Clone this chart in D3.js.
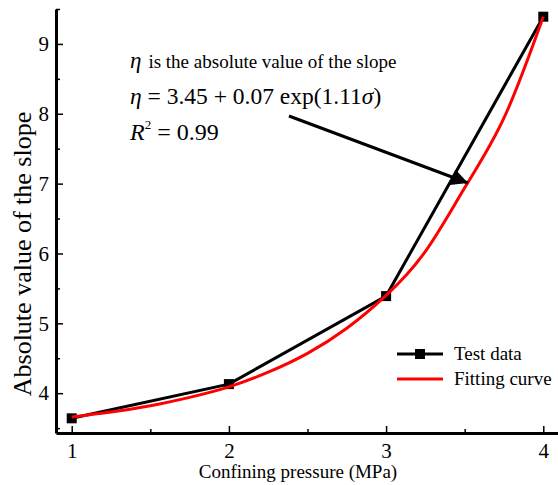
<!DOCTYPE html>
<html>
<head>
<meta charset="utf-8">
<script src="https://cdn.jsdelivr.net/npm/d3@7"></script>
<style>
  body { margin: 0; background: #fff; }
  svg { display: block; }
  svg text { font-family: "Liberation Serif", "Times New Roman", serif; fill: #000; }
  .axis path, .axis line { stroke: #000; }
  .axis text { font-size: 21px; }
</style>
</head>
<body>
<svg width="558" height="485"></svg>
<script>
// test data
var pressure = [1, 2, 3, 4];
var slopeAbs = [3.64, 4.13, 5.39, 9.39];

// fitting curve
var fitX = [1, 1.25, 1.5, 1.75, 2, 2.25, 2.5, 2.75, 3, 3.25, 3.5, 3.75, 4];
var fitY = [3.66, 3.73, 3.82, 3.94, 4.09, 4.30, 4.57, 4.93, 5.40, 6.03, 6.94, 7.94, 9.39];

var xMajor = [1, 2, 3, 4];
var xMinor = [1.5, 2.5, 3.5];
var yMajor = [4, 5, 6, 7, 8, 9];
var yMinor = [3.5, 4.5, 5.5, 6.5, 7.5, 8.5, 9.5];

var svg = d3.select("svg");

var x = d3.scaleLinear().domain([0.9, 4.1]).range([56, 559]);
var y = d3.scaleLinear().domain([3.43, 9.5]).range([433, 9]);

// axes
var gx = svg.append("g").attr("class", "axis").attr("transform", "translate(0,433)");
gx.call(d3.axisBottom(x).tickValues(xMajor).tickSize(-7).tickSizeOuter(0).tickPadding(10).tickFormat(d3.format("d")));
gx.append("g").call(d3.axisBottom(x).tickValues(xMinor).tickSize(-4).tickSizeOuter(0).tickFormat(""))
  .select(".domain").remove();

var gy = svg.append("g").attr("class", "axis").attr("transform", "translate(56,0)");
gy.call(d3.axisLeft(y).tickValues(yMajor).tickSize(-7).tickSizeOuter(0).tickPadding(7).tickFormat(d3.format("d")));
gy.append("g").call(d3.axisLeft(y).tickValues(yMinor).tickSize(-4).tickSizeOuter(0).tickFormat(""))
  .select(".domain").remove();

svg.selectAll(".axis").attr("font-family", null).attr("font-size", null);
svg.selectAll(".axis g").attr("font-family", null).attr("font-size", null);
svg.selectAll(".axis .domain").attr("stroke-width", 3);
svg.selectAll(".axis line").attr("stroke-width", 1.5);

// axis titles
svg.append("text")
  .attr("x", 298).attr("y", 478)
  .attr("text-anchor", "middle")
  .attr("font-size", 19)
  .text("Confining pressure (MPa)");

svg.append("text")
  .attr("transform", "translate(31,254) rotate(-90)")
  .attr("text-anchor", "middle")
  .attr("font-size", 26)
  .text("Absolute value of the slope");

// test data line
var line = d3.line().x(d => x(d[0])).y(d => y(d[1]));
svg.append("path")
  .datum(d3.zip(pressure, slopeAbs))
  .attr("d", line)
  .attr("fill", "none")
  .attr("stroke", "#000")
  .attr("stroke-width", 3);

svg.selectAll(".pt")
  .data(d3.zip(pressure, slopeAbs))
  .enter()
  .append("rect")
  .attr("class", "pt")
  .attr("x", d => x(d[0]) - 5)
  .attr("y", d => y(d[1]) - 5)
  .attr("width", 10)
  .attr("height", 10)
  .attr("fill", "#000");

// fitting curve
svg.append("path")
  .datum(d3.zip(fitX, fitY))
  .attr("d", line.curve(d3.curveNatural))
  .attr("fill", "none")
  .attr("stroke", "#f00")
  .attr("stroke-width", 3);

// annotation
var note = svg.append("g");
var t1 = note.append("text").attr("x", 130).attr("y", 68);
t1.append("tspan").attr("font-style", "italic").attr("font-size", 23).text("η");
t1.append("tspan").attr("font-size", 19).attr("dx", 7).text("is the absolute value of the slope");

var t2 = note.append("text").attr("x", 130).attr("y", 104).attr("font-size", 23.5);
t2.append("tspan").attr("font-style", "italic").text("η");
t2.append("tspan").text(" = 3.45 + 0.07 exp(1.11");
t2.append("tspan").attr("font-style", "italic").text("σ");
t2.append("tspan").text(")");

var t3 = note.append("text").attr("x", 130).attr("y", 140).attr("font-size", 24);
t3.append("tspan").attr("font-style", "italic").text("R");
t3.append("tspan").attr("font-size", 13).attr("dy", -11).text("2");
t3.append("tspan").attr("dy", 11).text(" = 0.99");

svg.append("defs").append("marker")
  .attr("id", "arrow")
  .attr("viewBox", "0 0 10 10")
  .attr("refX", 10).attr("refY", 5)
  .attr("markerWidth", 7).attr("markerHeight", 5.5)
  .attr("markerUnits", "strokeWidth")
  .attr("orient", "auto")
  .append("path")
  .attr("d", "M0,0L10,5L0,10Z")
  .attr("fill", "#000");

note.append("line")
  .attr("x1", 289).attr("y1", 116)
  .attr("x2", 468).attr("y2", 183)
  .attr("stroke", "#000")
  .attr("stroke-width", 3)
  .attr("marker-end", "url(#arrow)");

// legend
var legend = svg.append("g");
legend.append("line").attr("x1", 397).attr("x2", 443).attr("y1", 354).attr("y2", 354)
  .attr("stroke", "#000").attr("stroke-width", 3);
legend.append("rect").attr("x", 415).attr("y", 349).attr("width", 10).attr("height", 10).attr("fill", "#000");
legend.append("text").attr("x", 454).attr("y", 360).attr("font-size", 19).text("Test data");
legend.append("line").attr("x1", 397).attr("x2", 443).attr("y1", 379).attr("y2", 379)
  .attr("stroke", "#f00").attr("stroke-width", 3);
legend.append("text").attr("x", 454).attr("y", 385).attr("font-size", 19).text("Fitting curve");
</script>
</body>
</html>
